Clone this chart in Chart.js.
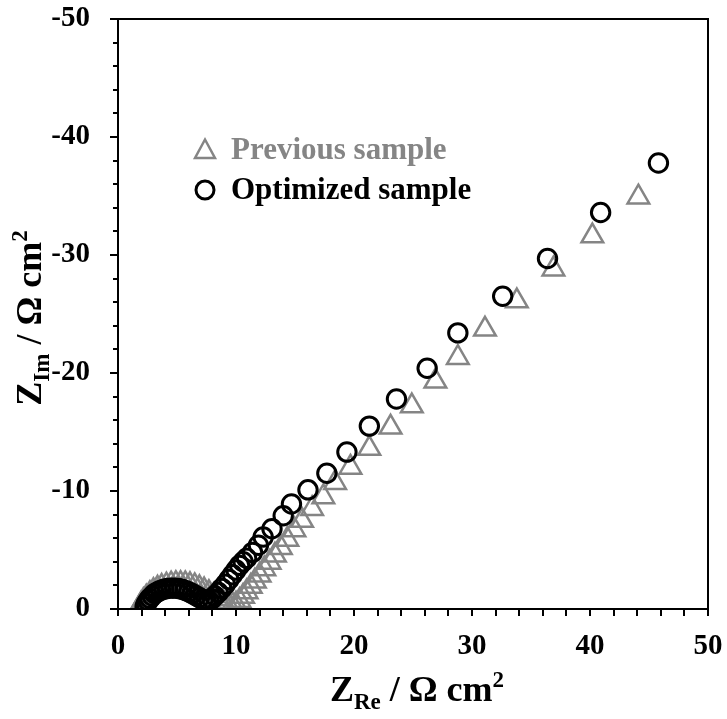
<!DOCTYPE html>
<html>
<head>
<meta charset="utf-8">
<script src="https://cdn.jsdelivr.net/npm/chart.js@4.4.0/dist/chart.umd.min.js"></script>
<style>
html,body{margin:0;padding:0;background:#fff;}
#wrap{width:727px;height:719px;position:relative;}
</style>
</head>
<body>
<div id="wrap"><canvas id="c" width="727" height="719"></canvas></div>
<script>
// ---- data ----
const seriesNames = ['Previous sample', 'Optimized sample'];
const prevX = [1.8,1.95,2.15,2.4,2.7,3.0,3.35,3.7,4.1,4.5,4.9,5.3,5.7,6.1,6.5,6.9,7.3,7.7,8.1,8.5,8.9,9.3,9.7,10.0,10.3,10.6,10.9,11.25,11.6,12.0,12.4,12.85,13.3,13.8,14.35,14.95,15.6,16.45,17.4,18.4,19.7,21.3,23.1,24.9,26.9,28.8,31.1,33.8,36.9,40.2,44.1];
const prevY = [-0.1,-0.4,-0.7,-1.0,-1.3,-1.55,-1.75,-1.9,-2.02,-2.1,-2.15,-2.15,-2.12,-2.05,-1.95,-1.8,-1.6,-1.38,-1.12,-0.85,-0.6,-0.42,-0.35,-0.4,-0.7,-1.05,-1.45,-1.9,-2.35,-2.85,-3.4,-3.95,-4.55,-5.2,-5.9,-6.7,-7.5,-8.5,-9.5,-10.7,-12.0,-13.6,-15.4,-17.2,-19.3,-21.3,-23.7,-26.1,-28.8,-31.6,-34.9];
const optX = [2.3,2.4,2.55,2.7,2.9,3.1,3.35,3.6,3.9,4.2,4.5,4.8,5.1,5.4,5.7,6.0,6.3,6.6,6.9,7.2,7.45,7.7,7.95,8.2,8.5,8.8,9.1,9.4,9.7,10.0,10.3,10.6,10.9,11.4,11.9,12.3,13.05,14.0,14.7,16.1,17.7,19.4,21.3,23.6,26.2,28.8,32.6,36.4,40.9,45.8];
const optY = [-0.2,-0.45,-0.7,-0.9,-1.1,-1.3,-1.45,-1.58,-1.68,-1.74,-1.77,-1.77,-1.74,-1.68,-1.58,-1.45,-1.3,-1.12,-0.95,-0.8,-0.72,-0.72,-0.85,-1.1,-1.4,-1.75,-2.1,-2.5,-2.9,-3.3,-3.7,-4.0,-4.3,-4.8,-5.4,-6.1,-6.8,-7.9,-8.9,-10.1,-11.5,-13.3,-15.5,-17.8,-20.4,-23.4,-26.5,-29.7,-33.6,-37.8];
const xTicks = [0,10,20,30,40,50];
const yTicks = [0,-10,-20,-30,-40,-50];
const xMinorStep = 2, yMinorStep = 2;

const GRAY = '#858585';
const SERIF = '"Liberation Serif","Times New Roman",serif';

function pts(xs, ys){ return xs.map((x,i)=>({x:x, y:ys[i]})); }

function drawRich(ctx, parts, cx, cy, rot){
  ctx.save();
  ctx.translate(cx, cy);
  if (rot) ctx.rotate(rot);
  let total = 0;
  parts.forEach(p=>{ ctx.font = 'bold '+p.size+'px '+SERIF; p.w = ctx.measureText(p.t).width; total += p.w; });
  let x = -total/2;
  ctx.textBaseline = 'alphabetic';
  ctx.textAlign = 'left';
  ctx.fillStyle = '#000';
  parts.forEach(p=>{ ctx.font = 'bold '+p.size+'px '+SERIF; ctx.fillText(p.t, x, p.dy||0); x += p.w; });
  ctx.restore();
}

function noPad(s){ s.paddingTop = 0; s.paddingBottom = 0; s.paddingLeft = 0; s.paddingRight = 0; }

const decor = {
  id:'decor',
  afterDraw(chart){
    const ctx = chart.ctx, a = chart.chartArea;
    const xs = chart.scales.x, ys = chart.scales.y;
    ctx.save();
    ctx.strokeStyle = '#000';
    ctx.lineWidth = 2;
    ctx.strokeRect(a.left, a.top, a.right-a.left, a.bottom-a.top);
    for (let v = xs.min; v <= xs.max + 1e-9; v += xMinorStep){
      const px = Math.round(xs.getPixelForValue(v));
      ctx.beginPath(); ctx.moveTo(px, a.bottom); ctx.lineTo(px, a.bottom + 7); ctx.stroke();
    }
    for (let v = ys.min; v <= ys.max + 1e-9; v += yMinorStep){
      const py = Math.round(ys.getPixelForValue(v));
      const major = Math.abs(v % 10) < 1e-6;
      ctx.beginPath(); ctx.moveTo(a.left, py); ctx.lineTo(a.left - (major?8:5), py); ctx.stroke();
    }
    // legend
    const lx = 205, ly1 = 150, ly2 = 190;
    ctx.lineWidth = 2.5;
    ctx.strokeStyle = GRAY;
    ctx.beginPath();
    const r = 10.5;
    ctx.moveTo(lx, ly1 - r); ctx.lineTo(lx + r*0.95, ly1 + r*0.75); ctx.lineTo(lx - r*0.95, ly1 + r*0.75); ctx.closePath(); ctx.stroke();
    ctx.strokeStyle = '#000';
    ctx.lineWidth = 3;
    ctx.beginPath(); ctx.arc(lx, ly2, 9, 0, Math.PI*2); ctx.stroke();
    ctx.font = 'bold 31px '+SERIF;
    ctx.textBaseline = 'middle';
    ctx.textAlign = 'left';
    ctx.fillStyle = GRAY;
    ctx.fillText(seriesNames[0], 231, ly1+1);
    ctx.fillStyle = '#000';
    ctx.fillText(seriesNames[1], 231, ly2+1);
    ctx.restore();
    // axis titles
    drawRich(ctx, [{t:'Z',size:36},{t:'Re',size:23,dy:8},{t:' / Ω cm',size:36},{t:'2',size:23,dy:-14}], 417, 701, 0);
    drawRich(ctx, [{t:'Z',size:36},{t:'Im',size:23,dy:8},{t:' / Ω cm',size:36},{t:'2',size:23,dy:-14}], 41, 318, -Math.PI/2);
  }
};

new Chart(document.getElementById('c'), {
  type:'scatter',
  data:{
    datasets:[
      {label:seriesNames[1], data:pts(optX,optY), order:0, pointStyle:'circle', pointRadius:9.2, pointHoverRadius:9.2, borderColor:'#000', backgroundColor:'rgba(0,0,0,0)', borderWidth:3, showLine:false},
      {label:seriesNames[0], data:pts(prevX,prevY), order:1, pointStyle:'triangle', pointRadius:12.5, pointHoverRadius:12.5, borderColor:GRAY, backgroundColor:'rgba(0,0,0,0)', borderWidth:2.5, showLine:false}
    ]
  },
  options:{
    responsive:false, animation:false, events:[],
    layout:{padding:{top:19, right:19, left:0, bottom:0}},
    plugins:{legend:{display:false}, tooltip:{enabled:false}},
    scales:{
      x:{type:'linear', min:0, max:50,
         grid:{display:false}, border:{display:false},
         afterBuildTicks(s){ s.ticks = xTicks.map(v=>({value:v})); },
         afterFit(s){ s.height = 110; noPad(s); },
         ticks:{color:'#000', padding:12, maxRotation:0, font:{family:SERIF, weight:'bold', size:29}, callback:v=>String(v)}},
      y:{type:'linear', min:-50, max:0, reverse:true,
         grid:{display:false}, border:{display:false},
         afterBuildTicks(s){ s.ticks = yTicks.map(v=>({value:v})); },
         afterFit(s){ s.width = 118; noPad(s); },
         ticks:{color:'#000', padding:20, font:{family:SERIF, weight:'bold', size:29}, callback:v=>String(v)}}
    }
  },
  plugins:[decor]
});
</script>
</body>
</html>
